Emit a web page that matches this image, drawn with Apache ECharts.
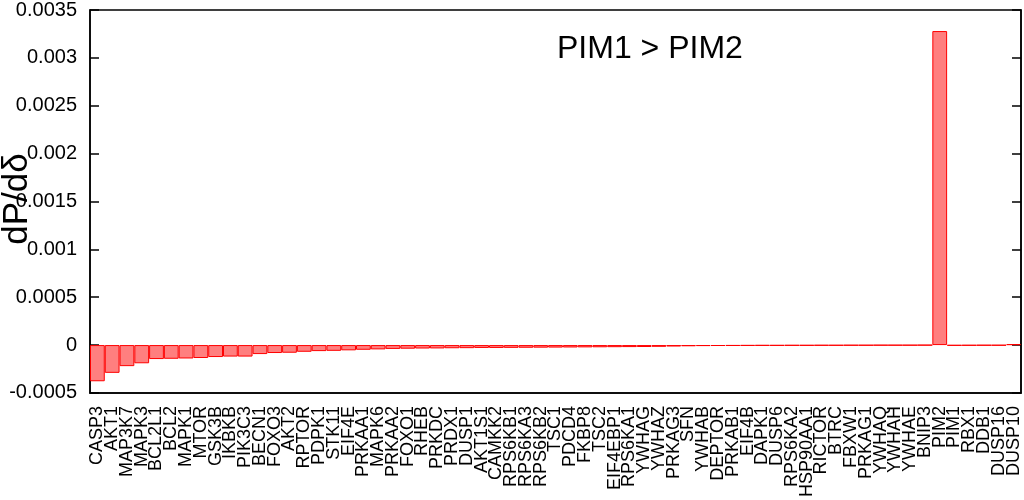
<!DOCTYPE html>
<html>
<head>
<meta charset="utf-8">
<script src="https://cdn.jsdelivr.net/npm/echarts@6/dist/echarts.min.js"></script>
<style>html,body{margin:0;padding:0;background:#fff;}#c{width:1024px;height:500px;}</style>
</head>
<body>
<div id="c"></div>
<script>
const categories = ["CASP3","AKT1","MAP3K7","MAPK3","BCL2L1","BCL2","MAPK1","MTOR","GSK3B","IKBKB","PIK3C3","BECN1","FOXO3","AKT2","RPTOR","PDPK1","STK11","EIF4E","PRKAA1","MAPK6","PRKAA2","FOXO1","RHEB","PRKDC","PRDX1","DUSP1","AKT1S1","CAMKK2","RPS6KB1","RPS6KA3","RPS6KB2","TSC1","PDCD4","FKBP8","TSC2","EIF4EBP1","RPS6KA1","YWHAG","YWHAZ","PRKAG3","SFN","YWHAB","DEPTOR","PRKAB1","EIF4B","DAPK1","DUSP6","RPS6KA2","HSP90AA1","RICTOR","BTRC","FBXW1","PRKAG1","YWHAQ","YWHAH","YWHAE","BNIP3","PIM2","PIM1","RBX1","DDB1","DUSP16","DUSP10"];
const values = [-0.000378,-0.00029,-0.00022,-0.00019,-0.000146,-0.000143,-0.00014,-0.000135,-0.000125,-0.00012,-0.00012,-0.000094,-0.000083,-0.00008,-0.00007,-0.000063,-0.00006,-0.000055,-0.000049,-0.000045,-0.00004,-0.000038,-0.000036,-0.000035,-0.000033,-0.000032,-0.00003,-0.00003,-0.000029,-0.000028,-0.000027,-0.000026,-0.000025,-0.000024,-0.000023,-0.000022,-0.000021,-0.00002,-0.000018,-0.000015,-0.000012,-0.00001,-0.000009,-0.000008,-0.000007,-0.000006,-0.000006,-0.000005,-0.000005,-0.000004,-0.000004,-0.000003,-0.000003,-0.000002,-0.000002,-0.000002,-0.000001,0.00328,-0.000005,-0.000004,-0.000003,-0.000003,0.00001];
const yTicks = {min:-0.0005, max:0.0035, interval:0.0005};
const titleText = "PIM1 > PIM2";
const yName = "dP/dδ";

const chart = echarts.init(document.getElementById('c'), null, {renderer:'canvas'});
const font = "Liberation Sans, Arial, Helvetica, sans-serif";
const yAxisCommon = {
  type:'value', min:yTicks.min, max:yTicks.max, interval:yTicks.interval,
  splitLine:{show:false},
  axisLine:{show:true, lineStyle:{color:'#000', width:1.5}},
  axisTick:{show:true, inside:true, length:9, lineStyle:{color:'#000', width:1.5}}
};
chart.setOption({
  animation:false,
  backgroundColor:'#fff',
  grid:{left:90, right:3, top:10, bottom:105, show:true, borderColor:'#000', borderWidth:1.5},
  graphic:[
    {type:'text', left:557, top:33, style:{text:titleText, font:'32px '+font, fill:'#000'}},
    {type:'text', x:17, y:199, rotation:Math.PI/2, style:{text:yName, font:'35px '+font, fill:'#000', align:'center', verticalAlign:'middle'}}
  ],
  xAxis:{
    type:'category', data:categories,
    axisLine:{onZero:false, show:true, lineStyle:{color:'#000', width:1.5}},
    axisTick:{show:false},
    axisLabel:{interval:0, rotate:90, fontSize:18, color:'#000', fontFamily:font, margin:13}
  },
  yAxis:[
    Object.assign({}, yAxisCommon, {position:'left',
      axisLabel:{show:true, fontSize:20, color:'#000', fontFamily:font, margin:13,
        formatter:v=>{ const r = Math.round(v*1e5)/1e5; return String(r); }}}),
    Object.assign({}, yAxisCommon, {position:'right', axisLabel:{show:false}})
  ],
  series:[{
    type:'bar', data:values, barCategoryGap:'0%', yAxisIndex:0,
    itemStyle:{color:'rgba(255,0,0,0.5)', borderColor:'#ff0000', borderWidth:1}
  }]
});
</script>
</body>
</html>
